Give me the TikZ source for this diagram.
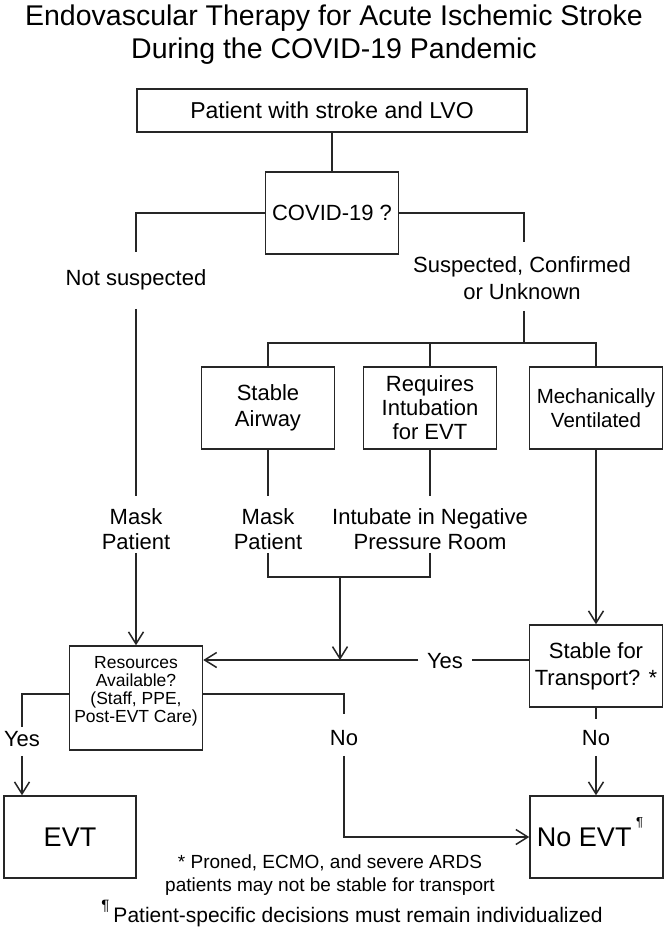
\documentclass[tikz,border=0pt]{standalone}
\usepackage{fontspec}
\setmainfont{Liberation Sans}
\usetikzlibrary{arrows.meta}
\newcommand{\fsz}[2]{\fontsize{#1}{#2}\selectfont}
\begin{document}
\begin{tikzpicture}[x=1pt,y=-1pt,
  line width=1.5pt, draw=black!85,
  box/.style={draw=black!85, line width=1.5pt, inner sep=0pt, align=center, minimum width=133pt, minimum height=82pt, font=\fsz{22}{26}},
  lbl/.style={inner sep=0pt, align=center, font=\fsz{22}{25}},
  slbl/.style={inner sep=0pt, font=\fsz{22}{26}, text height=16pt, text depth=0pt},
  arr/.style={-{Straight Barb[length=12pt,width=15pt]}},
]
\useasboundingbox (0,0) rectangle (666,938);
% nodes
\node[lbl, font=\fsz{28.5}{32.5}] (title) at (334,34.6) {Endovascular Therapy for Acute Ischemic Stroke\\During the COVID-19 Pandemic};
\node[box, minimum width=390pt, minimum height=43pt, font=\fsz{23}{26}] (top) at (332,110.5) {Patient with stroke and LVO};
\node[box] (covid) at (332,213) {COVID-19 ?};
\node[slbl] (ns) at (136,277) {Not suspected};
\node[lbl, font=\fsz{22}{27}] (sus) at (522,278.5) {Suspected, Confirmed\\or Unknown};
\node[box] (sa) at (268,408) {Stable\\Airway};
\node[box, font=\fsz{22}{24}] (ri) at (430,408) {Requires\\Intubation\\for EVT};
\node[box, font=\fsz{20.5}{24}] (mv) at (596,408) {Mechanically\\Ventilated};
\node[lbl] (mp1) at (136,529.5) {Mask\\Patient};
\node[lbl] (mp2) at (268,529.5) {Mask\\Patient};
\node[lbl] (neg) at (430,529.5) {Intubate in Negative\\Pressure Room};
\node[box, font=\fsz{22}{27}] (st) at (596,666) {Stable for\\Transport? *};
\node[box, minimum height=104pt, inner sep=2pt, font=\fsz{17.5}{18}] (res) at (136,698) {Resources\\Available?\\(Staff, PPE,\\Post-EVT Care)\\[-1pt]\mbox{}};
\node[box, minimum width=132pt, font=\fsz{27}{30}] (evt) at (70,837) {EVT};
\node[box, font=\fsz{27}{30}] (noevt) at (596.5,837) {No EVT\,\raisebox{20pt}[0pt][0pt]{\fsz{13}{13}¶}\hspace{13pt}};
\node[slbl, inner xsep=8pt] (yes1) at (445,660) {Yes};
\node[slbl] (yes2) at (22,738) {Yes};
\node[slbl] (no1) at (344,737) {No};
\node[slbl] (no2) at (596,737) {No};
\node[lbl, font=\fsz{19}{23}] (fn1) at (330,875.4) {* Proned, ECMO, and severe ARDS\\patients may not be stable for transport};
\node[inner sep=0pt, anchor=base, font=\fsz{21}{24}] (fn2) at (352,922.6) {\raisebox{12pt}{\fsz{15}{15}¶}\hspace{4pt}Patient-specific decisions must remain individualized};
% connectors
\coordinate (br) at (524,343);
\coordinate (mj) at (340,577);
\draw (top) -- (covid);
\draw[shorten >=16pt] (covid.west) -| (ns.north);
\draw[shorten >=14pt] (covid.east) -| (sus.north -| br);
\draw[shorten <=10pt] (sus.south -| br) -- (br);
\draw (sa.north) |- (br) -| (mv.north);
\draw (ri.north) -- (ri.north |- br);
\draw[shorten <=23pt, shorten >=12pt] (ns.south) -- (mp1.north);
\draw[arr, shorten <=2pt] (mp1.south) -- (res.north);
\draw[shorten >=12pt] (sa.south) -- (mp2.north);
\draw[shorten >=12pt] (ri.south) -- (neg.north);
\draw[shorten <=2pt] (mp2.south) |- (mj);
\draw[shorten <=2pt] (neg.south) |- (mj);
\draw[arr] (mj) -- (mj |- yes1);
\draw[arr] (mv) -- (st);
\draw (st.west |- yes1.east) -- (yes1.east);
\draw[arr] (yes1.west) -- (yes1.west -| res.east);
\draw[shorten >=2pt] ([yshift=4pt]res.west) -| (yes2.north);
\draw[arr, shorten <=9pt] (yes2.south) -- (yes2.south |- evt.north);
\draw[shorten >=14pt] ([yshift=4pt]res.east) -| (no1.north);
\draw[arr, shorten <=10pt] (no1.south) |- (noevt.west);
\draw[shorten >=9pt] (st.south) -- (no2.north);
\draw[arr, shorten <=10pt] (no2.south) -- (no2.south |- noevt.north);
\end{tikzpicture}
\end{document}
